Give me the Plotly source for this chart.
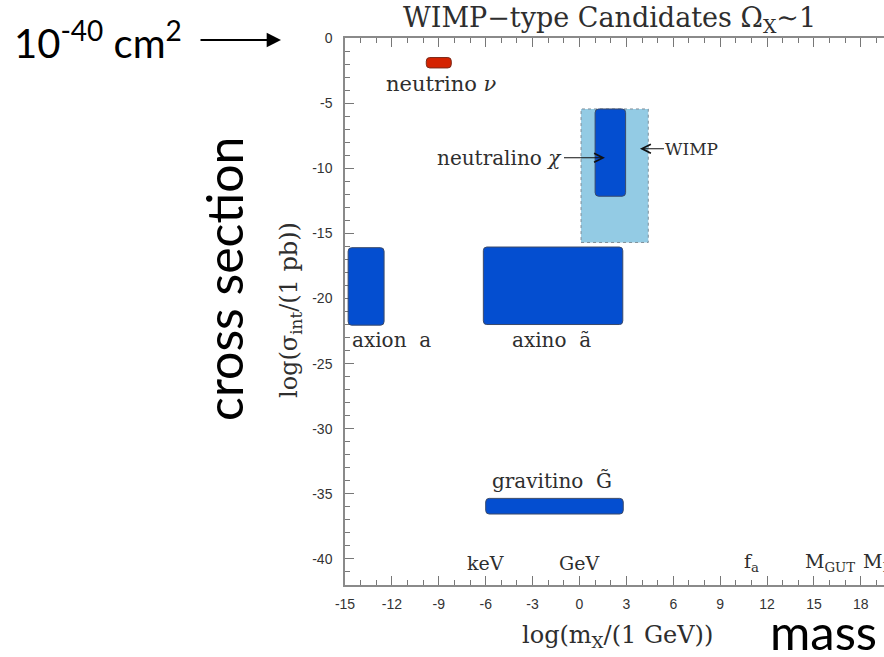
import plotly.graph_objects as go

# Dark-matter candidates: ranges in log10(mass / GeV) and log10(sigma_int / pb)
candidates = ["neutrino", "neutralino", "axion", "axino", "gravitino"]
log_m_lo = [-9.8, 1.0, -14.8, -6.15, -6.0]
log_m_hi = [-8.2, 2.95, -12.5, 2.77, 2.8]
log_sig_lo = [-2.3, -12.15, -22.05, -22.0, -36.55]
log_sig_hi = [-1.5, -5.45, -16.1, -16.05, -35.35]
fill_colors = ["#d42200", "#044ed0", "#044ed0", "#044ed0", "#044ed0"]
edge_colors = ["#7a2a1a", "#3a4a6a", "#3a4a6a", "#3a4a6a", "#3a4a6a"]

# Generic WIMP band
wimp_m = [0.1, 4.4]
wimp_sig = [-15.7, -5.45]

# Axes
x_ticks = [-15, -12, -9, -6, -3, 0, 3, 6, 9, 12, 15, 18]
y_ticks = [0, -5, -10, -15, -20, -25, -30, -35, -40]
x_range = [-15, 19.48]
y_range = [-42, 0]

# Mass-scale markers along the bottom of the frame
scale_names = ["keV", "GeV", "f<sub>a</sub>", "M<sub>GUT</sub>", "M<sub>P</sub>"]
scale_log_m = [-6, 0, 11, 16, 19]

W, H = 884, 657
ML, MR, MT, MB = 345, 0, 38, 72
PW, PH = W - ML - MR, H - MT - MB

SERIF = "DejaVu Serif"
SANS_BIG = "Lato"
INK = "#2e2e2e"


def rounded_rect(x0, x1, y0, y1, rx=0.22, ry=0.28):
    rx = min(rx, (x1 - x0) / 2)
    ry = min(ry, (y1 - y0) / 2)
    return (f"M{x0 + rx},{y0} L{x1 - rx},{y0} Q{x1},{y0} {x1},{y0 + ry} "
            f"L{x1},{y1 - ry} Q{x1},{y1} {x1 - rx},{y1} "
            f"L{x0 + rx},{y1} Q{x0},{y1} {x0},{y1 - ry} "
            f"L{x0},{y0 + ry} Q{x0},{y0} {x0 + rx},{y0} Z")


def px_x(px):
    return (px - ML) / PW


def px_y(py):
    return 1 - (py - MT) / PH


fig = go.Figure()
fig.add_trace(go.Scatter(x=[None], y=[None], showlegend=False, hoverinfo="skip"))

shapes = [dict(type="rect", xref="x", yref="y",
               x0=wimp_m[0], x1=wimp_m[1], y0=wimp_sig[0], y1=wimp_sig[1],
               fillcolor="#93cbe4", line=dict(color="#7f8f9a", width=1, dash="dot"),
               layer="above")]
for i in range(len(candidates)):
    shapes.append(dict(type="path", xref="x", yref="y",
                       path=rounded_rect(log_m_lo[i], log_m_hi[i], log_sig_lo[i], log_sig_hi[i]),
                       fillcolor=fill_colors[i], line=dict(color=edge_colors[i], width=1),
                       layer="above"))

ann = []


def label(text, x, y, size=20, font=SERIF, **kw):
    ann.append(dict(text=text, x=x, y=y, xref="x", yref="y", showarrow=False,
                    xanchor="center", yanchor="middle",
                    font=dict(family=font, size=size, color=INK), **kw))


def page_text(text, px, py, size, font=SERIF, color=INK, angle=0):
    ann.append(dict(text=text, x=px_x(px), y=px_y(py), xref="paper", yref="paper",
                    showarrow=False, xanchor="center", yanchor="middle", textangle=angle,
                    font=dict(family=font, size=size, color=color)))


label("neutrino <i>ν</i>", -8.8, -3.5, size=21)
label("axion  a", -12.05, -23.2)
label("axino  ã", -1.8, -23.2)
label("gravitino  G\u0303", -1.75, -34.0)

# Neutralino and WIMP arrows
ann.append(dict(text="neutralino <i>χ</i>", x=1.63, y=-9.2, xref="x", yref="y",
                ax=-105, ay=0, showarrow=True, arrowhead=5, arrowsize=1.6,
                arrowwidth=1.1, arrowcolor="#111", standoff=0,
                font=dict(family=SERIF, size=20, color=INK)))
ann.append(dict(text="WIMP", x=3.87, y=-8.5, xref="x", yref="y",
                ax=52, ay=0, showarrow=True, arrowhead=5, arrowsize=1.6,
                arrowwidth=1.1, arrowcolor="#111", standoff=0,
                font=dict(family=SERIF, size=17, color=INK)))

for name, xm in zip(scale_names, scale_log_m):
    label(name, xm, -40.3, size=19)

# Titles
page_text("WIMP\u2212type Candidates Ω<sub>X</sub>∼1", 609, 19, 27)
page_text("log(m<sub>X</sub>/(1 GeV))", 617, 636, 24)
page_text("log(σ<sub>int</sub>/(1 pb))", 290, 310, 24, angle=-90)

# Big explanatory labels
page_text("cross section", 224, 279, 50, font=SANS_BIG, color="#000", angle=-90)
page_text("mass", 823, 631, 49, font=SANS_BIG, color="#000")
page_text("10<sup>-40</sup> cm<sup>2</sup>", 98, 40, 40, font=SANS_BIG, color="#000")
ann.append(dict(text="", x=px_x(281), y=px_y(40), xref="paper", yref="paper",
                ax=-82, ay=0, showarrow=True, arrowhead=2, arrowsize=1.3,
                arrowwidth=2.2, arrowcolor="#000", standoff=0))

axis_common = dict(showgrid=False, zeroline=False, showline=True, linecolor="#8a8a8a",
                   linewidth=1.5, ticks="inside", tickcolor="#777", tickwidth=1.2,
                   tickfont=dict(family="Liberation Sans", size=14, color="#333"))

fig.update_layout(
    width=W, height=H, margin=dict(l=ML, r=MR, t=MT, b=MB),
    paper_bgcolor="white", plot_bgcolor="white",
    shapes=shapes, annotations=ann, showlegend=False,
    xaxis=dict(range=x_range, tickmode="array", tickvals=x_ticks,
               ticktext=[str(v) for v in x_ticks], ticklen=9, mirror="ticks",
               minor=dict(tick0=-15, dtick=1, ticks="inside", ticklen=5,
                          tickcolor="#777", tickwidth=1),
               ticklabelstandoff=5, **axis_common),
    yaxis=dict(range=y_range, tickmode="array", tickvals=y_ticks,
               ticktext=[str(v) for v in y_ticks], ticklen=9,
               minor=dict(tick0=0, dtick=1, ticks="inside", ticklen=5,
                          tickcolor="#777", tickwidth=1),
               ticklabelstandoff=8, **axis_common),
)

fig.write_html("out.html")
